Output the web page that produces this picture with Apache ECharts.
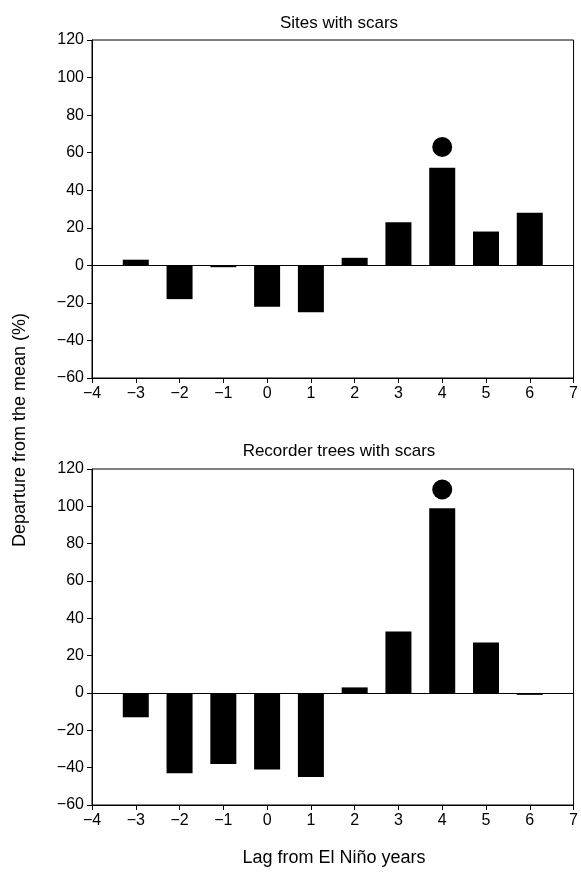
<!DOCTYPE html>
<html><head><meta charset="utf-8">
<script src="https://cdn.jsdelivr.net/npm/echarts@6/dist/echarts.min.js"></script>
<style>html,body{margin:0;padding:0;background:#fff}#c{width:581px;height:874px}</style>
</head><body><div id="c"></div>
<script>
// Lag from El Niño years
var lags = [-3, -2, -1, 0, 1, 2, 3, 4, 5, 6];
var sitesPct = [3, -18, -1, -22, -25, 4, 23, 52, 18, 28];
var treesPct = [-13, -43, -38, -41, -45, 3, 33, 99, 27, -1];
// significant lag markers
var sitesDot = [[4, 63]];
var treesDot = [[4, 109]];

var font = 'Liberation Sans, Arial, sans-serif';
var chart = echarts.init(document.getElementById('c'));

function pair(xs, ys) {
    return xs.map(function (x, i) { return [x, ys[i]]; });
}
function minus(v) { return v < 0 ? '\u2212' + (-v) : v; }

function xAxis(i) {
    return {
        gridIndex: i, type: 'value', min: -4, max: 7, interval: 1,
        axisLine: {onZero: false, lineStyle: {color: '#000'}},
        axisTick: {lineStyle: {color: '#000'}},
        axisLabel: {color: '#000', fontSize: 16, fontFamily: font, formatter: minus},
        splitLine: {show: false}
    };
}
function yAxis(i) {
    return {
        gridIndex: i, type: 'value', min: -60, max: 120, interval: 20,
        axisLine: {show: true, onZero: false, lineStyle: {color: '#000'}},
        axisTick: {lineStyle: {color: '#000'}},
        axisLabel: {color: '#000', fontSize: 16, fontFamily: font, formatter: minus},
        splitLine: {show: false}
    };
}
function bars(i, data) {
    return {
        type: 'bar', xAxisIndex: i, yAxisIndex: i, data: data, barWidth: 26,
        itemStyle: {color: '#000'}, silent: true,
        markLine: {symbol: 'none', silent: true, label: {show: false},
            lineStyle: {color: '#000', type: 'solid', width: 1},
            data: [{yAxis: 0}]}
    };
}
function dots(i, data) {
    return {
        type: 'scatter', xAxisIndex: i, yAxisIndex: i, data: data,
        symbolSize: 20, itemStyle: {color: '#000', opacity: 1}, silent: true
    };
}

chart.setOption({
    animation: false,
    title: [
        {text: 'Sites with scars', left: 334, top: 10, textAlign: 'center',
            textStyle: {fontSize: 17, fontWeight: 'normal', color: '#000', fontFamily: font}},
        {text: 'Recorder trees with scars', left: 334, top: 438, textAlign: 'center',
            textStyle: {fontSize: 17, fontWeight: 'normal', color: '#000', fontFamily: font}}
    ],
    grid: [
        {left: 92, right: 5, top: 40, height: 338, show: true, borderColor: '#000', borderWidth: 1},
        {left: 92, right: 5, top: 469, height: 336, show: true, borderColor: '#000', borderWidth: 1}
    ],
    xAxis: [xAxis(0), xAxis(1)],
    yAxis: [yAxis(0), yAxis(1)],
    series: [
        bars(0, pair(lags, sitesPct)), dots(0, sitesDot),
        bars(1, pair(lags, treesPct)), dots(1, treesDot)
    ],
    graphic: [
        {type: 'text', x: 20, y: 430, rotation: Math.PI / 2,
            style: {text: 'Departure from the mean (%)', fontSize: 18, fontFamily: font, fill: '#000',
                align: 'center', verticalAlign: 'middle'}},
        {type: 'text', x: 334, y: 858,
            style: {text: 'Lag from El Niño years', fontSize: 18, fontFamily: font, fill: '#000',
                align: 'center', verticalAlign: 'middle'}}
    ]
});
</script></body></html>
